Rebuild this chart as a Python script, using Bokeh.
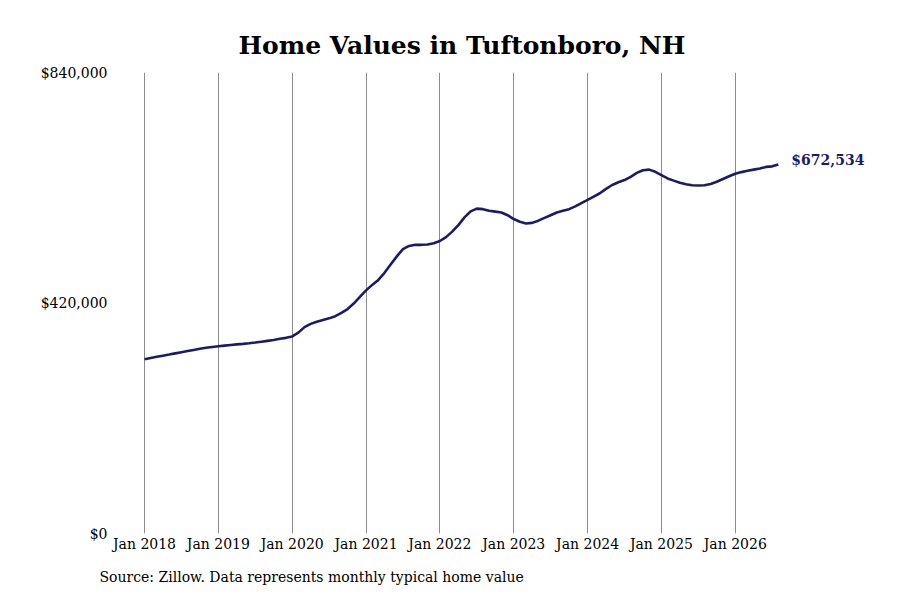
from bokeh.plotting import figure
from bokeh.models import FixedTicker, NumeralTickFormatter, Range1d, Title, ColumnDataSource
from bokeh.embed import file_html
from bokeh.resources import INLINE
from bokeh.core.properties import value

# Monthly typical home value, Jan 2018 .. Aug 2026
start_year = 2018
home_values = [
    317600, 319800, 322000, 324000, 326000, 328200, 330400, 332500, 334500, 336500, 338300, 339900,
    341200, 342400, 343600, 344600, 345500, 346600, 348000, 349500, 351000, 352500, 355000, 356500,
    359000, 366000, 376000, 382000, 386000, 389000, 392000, 396000, 402000, 409000, 419000, 431000,
    443000, 453000, 462000, 475000, 490000, 505000, 518000, 524000, 526000, 526000, 526500, 529000,
    533000, 540000, 550000, 562000, 576000, 587000, 592000, 591000, 588000, 586500, 585000, 580000,
    573000, 568000, 565000, 566000, 570000, 575000, 580000, 585000, 588000, 591000, 596000, 602000,
    608000, 614000, 620000, 628000, 635000, 640000, 644000, 650000, 657000, 662000, 663000, 659000,
    653000, 647000, 643000, 639000, 636500, 634500, 634000, 634500, 637000, 641000, 646000, 651000,
    655500, 658500, 661000, 663000, 665000, 668000, 669000, 672534,
]
tick_years = [2018, 2019, 2020, 2021, 2022, 2023, 2024, 2025, 2026]
tick_labels = ["Jan %d" % y for y in tick_years]
y_ticks = [0, 420000, 840000]
last_label = "$672,534"
title_text = "Home Values in Tuftonboro, NH"
source_text = "Source: Zillow. Data represents monthly typical home value"

months = list(range(len(home_values)))
x_ticks = [(y - start_year) * 12 for y in tick_years]

LINE = "#1b1b6b"
FONT = "DejaVu Serif"

p = figure(width=884, height=600, output_backend="svg", toolbar_location=None,
           x_range=Range1d(-5.2, 118.3), y_range=Range1d(0, 840000),
           min_border_left=112, min_border_right=12, min_border_top=72, min_border_bottom=66)
p.outline_line_color = None

t = Title(text=title_text, text_font=FONT, text_font_size="25px", text_font_style="bold",
          text_color="black", align="left", offset=126, standoff=25)
p.add_layout(t, "above")
s = Title(text=source_text, text_font=FONT, text_font_size="14px", text_font_style="normal",
          text_color="black", align="left", offset=-13, standoff=28, vertical_align="top")
p.add_layout(s, "below")

src = ColumnDataSource(data=dict(x=months, y=home_values))
p.line("x", "y", source=src, line_color=LINE, line_width=2.6)

p.text(x=[months[-1]], y=[home_values[-1]], text=[last_label], text_font=value(FONT),
       text_font_size="14px", text_font_style="bold", text_color=LINE,
       text_align="left", text_baseline="middle", x_offset=13, y_offset=-4)

p.xaxis.ticker = FixedTicker(ticks=x_ticks)
p.xaxis.major_label_overrides = {t_: l for t_, l in zip(x_ticks, tick_labels)}
p.xaxis.axis_line_color = None
p.xaxis.major_tick_line_color = None
p.xaxis.minor_tick_line_color = None
p.xaxis.major_label_text_font = FONT
p.xaxis.major_label_text_font_size = "14px"
p.xaxis.major_label_text_color = "black"
p.xaxis.major_label_standoff = -4

p.yaxis.ticker = FixedTicker(ticks=y_ticks)
p.yaxis.formatter = NumeralTickFormatter(format="$0,0")
p.yaxis.axis_line_color = None
p.yaxis.major_tick_line_color = None
p.yaxis.minor_tick_line_color = None
p.yaxis.major_label_text_font = FONT
p.yaxis.major_label_text_font_size = "14px"
p.yaxis.major_label_text_color = "black"
p.yaxis.major_label_standoff = -1

p.xgrid.ticker = FixedTicker(ticks=x_ticks)
p.xgrid.grid_line_color = "#8c8c8c"
p.xgrid.grid_line_width = 1
p.ygrid.grid_line_color = None

open("out.html", "w").write(file_html(p, INLINE))
